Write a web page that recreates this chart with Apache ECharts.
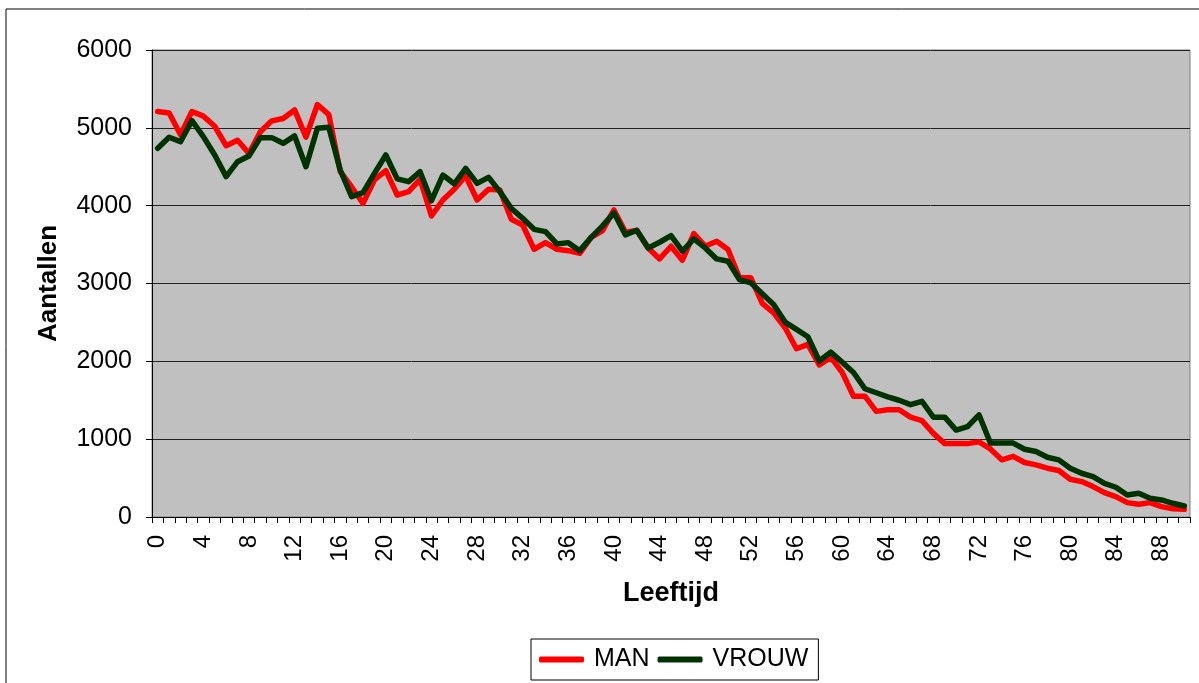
<!DOCTYPE html>
<html>
<head>
<meta charset="utf-8">
<script src="https://cdn.jsdelivr.net/npm/echarts@6/dist/echarts.min.js"></script>
<style>
html,body{margin:0;padding:0;background:#fff;}
#c{width:1199px;height:683px;}
</style>
</head>
<body>
<div id="c"></div>
<script>
var ages = [];
for (var a = 0; a <= 90; a++) ages.push(String(a));

var man = [5210,5190,4910,5210,5150,5020,4770,4840,4670,4950,
           5090,5120,5230,4880,5300,5170,4440,4240,4030,4330,
           4450,4137,4180,4339,3867,4073,4210,4381,4073,4210,
           4202,3825,3752,3440,3525,3440,3422,3388,3593,3680,
           3945,3660,3680,3457,3316,3479,3299,3641,3479,3543,
           3436,3073,3073,2744,2624,2432,2162,2218,1953,2050,
           1860,1552,1552,1357,1378,1378,1283,1239,1074,943,
           943,943,965,875,735,780,700,670,627,597,
           485,455,391,313,262,185,163,185,133,107,
           99];

var vrouw = [4737,4879,4822,5092,4887,4651,4373,4565,4638,4874,
             4874,4801,4896,4501,4994,5007,4458,4115,4167,4415,
             4651,4345,4309,4437,4064,4394,4279,4480,4287,4364,
             4180,3965,3837,3696,3666,3508,3525,3422,3593,3740,
             3908,3625,3684,3457,3530,3615,3415,3573,3457,3316,
             3286,3051,3009,2868,2731,2504,2410,2316,2004,2118,
             1990,1857,1648,1596,1543,1500,1443,1487,1283,1283,
             1117,1161,1313,950,950,950,870,841,768,734,
             627,562,519,433,382,283,305,240,219,176,
             142];

var seriesNames = ['MAN', 'VROUW'];
var xTitle = 'Leeftijd';
var yTitle = 'Aantallen';

var font = '"Liberation Sans", Arial, sans-serif';
var chart = echarts.init(document.getElementById('c'), null, {renderer: 'canvas'});
chart.setOption({
  animation: false,
  backgroundColor: '#fff',
  textStyle: {fontFamily: font},
  graphic: [{
    type: 'rect', shape: {x: 6, y: 9, width: 1200, height: 700},
    style: {fill: 'none', stroke: '#000', lineWidth: 1}, z: -10
  }],
  grid: {
    left: 152, top: 50, right: 9, bottom: 166,
    show: true, backgroundColor: '#C0C0C0', borderColor: '#808080', borderWidth: 1
  },
  legend: {
    data: seriesNames,
    bottom: 3, left: 531,
    orient: 'horizontal',
    borderColor: '#000', borderWidth: 1,
    padding: [8, 10, 8, 8],
    itemWidth: 45, itemHeight: 6, itemGap: 8,
    icon: 'roundRect',
    textStyle: {fontSize: 25, color: '#000', fontFamily: font, padding: [0, 0, 0, 5]}
  },
  xAxis: {
    type: 'category',
    data: ages,
    boundaryGap: true,
    name: xTitle,
    nameLocation: 'middle',
    nameGap: 63,
    nameTextStyle: {fontSize: 27, fontWeight: 'bold', color: '#000', fontFamily: font},
    axisLine: {lineStyle: {color: '#000', width: 1}},
    axisTick: {show: true, interval: 0, length: 6, lineStyle: {color: '#000'}},
    axisLabel: {interval: 3, rotate: 90, fontSize: 24, color: '#000', margin: 18, fontFamily: font},
    splitLine: {show: false}
  },
  yAxis: {
    type: 'value',
    min: 0, max: 6000, interval: 1000,
    name: yTitle,
    nameLocation: 'middle',
    nameGap: 90,
    nameRotate: 90,
    nameTextStyle: {fontSize: 26, fontWeight: 'bold', color: '#000', fontFamily: font},
    axisLine: {show: true, lineStyle: {color: '#000', width: 1}},
    axisTick: {show: true, length: 6, lineStyle: {color: '#000'}},
    axisLabel: {fontSize: 25, color: '#000', margin: 20, fontFamily: font,
                formatter: function (v) { return String(v); }},
    splitLine: {show: true, lineStyle: {color: '#222', width: 1}}
  },
  series: [
    {name: seriesNames[0], type: 'line', data: man, symbol: 'none',
     color: '#FF0000', lineStyle: {color: '#FF0000', width: 5.5, cap: 'round', join: 'round'}},
    {name: seriesNames[1], type: 'line', data: vrouw, symbol: 'none',
     color: '#003300', lineStyle: {color: '#003300', width: 5.5, cap: 'round', join: 'round'}}
  ]
});
</script>
</body>
</html>
